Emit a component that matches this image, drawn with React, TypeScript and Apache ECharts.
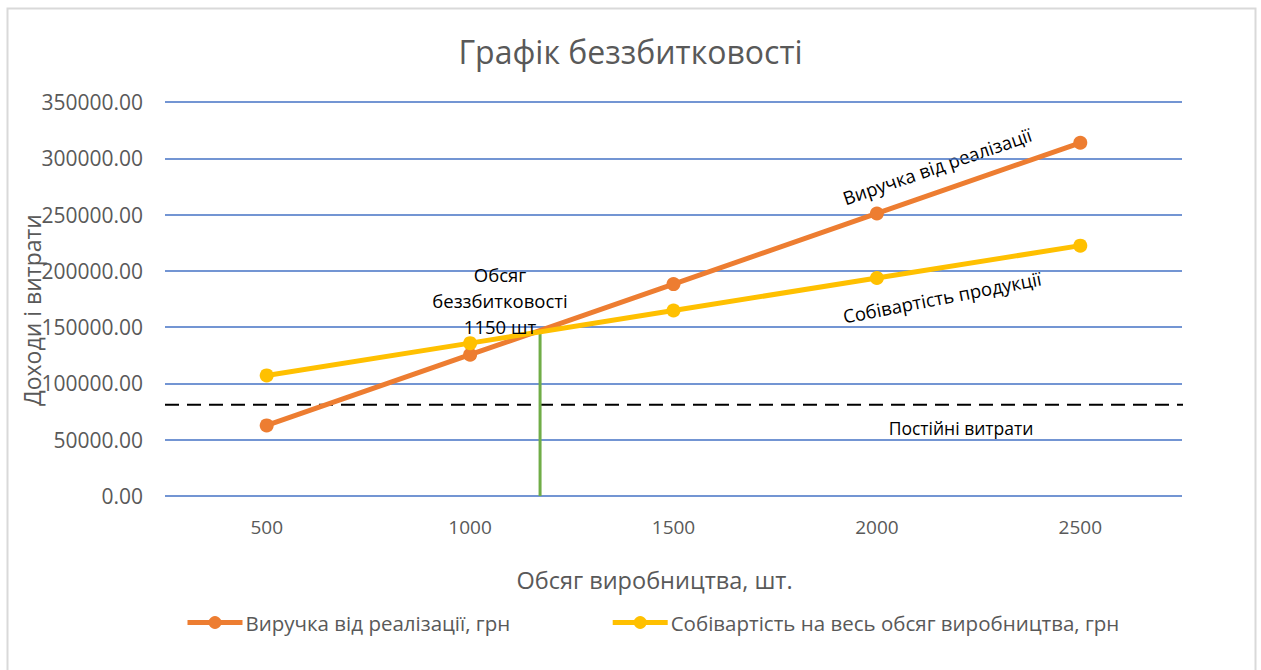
import React, { useEffect, useRef } from "react";
import * as echarts from "echarts";

const categories = ["500", "1000", "1500", "2000", "2500"];
const revenue = [62700, 125500, 188250, 251000, 313750];
const cost = [107100, 135800, 164800, 193600, 222400];
const fixedCostLevel = 81000;
const breakEvenX = 1172;
const breakEvenY = 147500;
const yTicks = { min: 0, max: 350000, interval: 50000 };

const FONT = "'Open Sans', 'Noto Sans', sans-serif";
const GRAY = "#595959";

export default function App() {
  const ref = useRef<HTMLDivElement>(null);
  useEffect(() => {
    if (!ref.current) return;
    const chart = echarts.init(ref.current, null, { renderer: "svg" });
    chart.setOption({
      animation: false,
      backgroundColor: "#fff",
      textStyle: { fontFamily: FONT },
      title: {
        text: "Графік беззбитковості",
        left: "center",
        top: 30,
        textStyle: { fontFamily: FONT, fontSize: 32, fontWeight: "normal", color: GRAY },
      },
      grid: { left: 165, right: 79, top: 102, bottom: 174 },
      legend: {
        top: 612,
        left: 185,
        padding: 0,
        itemWidth: 55,
        itemHeight: 16,
        itemGap: 100,
        lineStyle: { width: 5 },
        textStyle: { fontFamily: FONT, fontSize: 20.5, color: GRAY, padding: [0, 0, 0, -2] },
        data: ["Виручка від реалізації, грн", "Собівартість на весь обсяг виробництва, грн"],
      },
      xAxis: [
        {
          type: "category",
          data: categories,
          boundaryGap: true,
          axisLine: { show: false },
          axisTick: { show: false },
          axisLabel: { fontFamily: FONT, fontSize: 19, color: GRAY, margin: 21 },
          name: "Обсяг виробництва, шт.",
          nameLocation: "middle",
          nameGap: 72,
          nameTextStyle: { fontFamily: FONT, fontSize: 23.5, color: GRAY, padding: [0, 38, 0, 0] },
        },
        { type: "value", min: 250, max: 2750, show: false },
      ],
      yAxis: {
        type: "value",
        min: yTicks.min,
        max: yTicks.max,
        interval: yTicks.interval,
        axisLine: { show: false },
        axisTick: { show: false },
        axisLabel: {
          fontFamily: FONT,
          fontSize: 21,
          color: GRAY,
          margin: 22,
          formatter: (v: number) => v.toFixed(2),
        },
        splitLine: { lineStyle: { color: "#4472C4", width: 1.5 } },
      },
      series: [
        {
          name: "Виручка від реалізації, грн",
          type: "line",
          data: revenue,
          xAxisIndex: 0,
          symbol: "circle",
          symbolSize: 14,
          lineStyle: { width: 5, color: "#ED7D31" },
          itemStyle: { color: "#ED7D31" },
          z: 3,
        },
        {
          name: "Собівартість на весь обсяг виробництва, грн",
          type: "line",
          data: cost,
          xAxisIndex: 0,
          symbol: "circle",
          symbolSize: 14,
          lineStyle: { width: 5, color: "#FFC000" },
          itemStyle: { color: "#FFC000" },
          z: 4,
        },
        {
          name: "fixed",
          type: "line",
          xAxisIndex: 1,
          data: [
            [250, fixedCostLevel],
            [2755, fixedCostLevel],
          ],
          symbol: "none",
          lineStyle: { width: 2, color: "#000", type: [14, 8] },
          silent: true,
          z: 2,
        },
        {
          name: "breakeven",
          type: "line",
          xAxisIndex: 1,
          data: [
            [breakEvenX, 0],
            [breakEvenX, breakEvenY],
          ],
          symbol: "none",
          lineStyle: { width: 3, color: "#70AD47" },
          silent: true,
          z: 2,
        },
      ],
      graphic: [
        {
          type: "rect",
          shape: { x: 7.5, y: 8.5, width: 1248, height: 670 },
          style: { fill: "none", stroke: "#d9d9d9", lineWidth: 2 },
          silent: true,
        },
        {
          type: "text",
          x: 32,
          y: 310,
          rotation: Math.PI / 2,
          style: {
            text: "Доходи і витрати",
            align: "center",
            verticalAlign: "middle",
            fontFamily: FONT,
            fontSize: 23,
            fill: GRAY,
          },
        },
        {
          type: "text",
          x: 500,
          y: 300,
          style: {
            text: "Обсяг\nбеззбитковості\n1150 шт",
            align: "center",
            verticalAlign: "middle",
            fontFamily: FONT,
            fontSize: 18.5,
            lineHeight: 26,
            fill: "#000",
          },
          z: 10,
        },
        {
          type: "text",
          x: 937,
          y: 166,
          rotation: (19 * Math.PI) / 180,
          style: {
            text: "Виручка від реалізації",
            align: "center",
            verticalAlign: "middle",
            fontFamily: FONT,
            fontSize: 18.5,
            fill: "#000",
          },
        },
        {
          type: "text",
          x: 942,
          y: 297,
          rotation: (11 * Math.PI) / 180,
          style: {
            text: "Собівартість продукції",
            align: "center",
            verticalAlign: "middle",
            fontFamily: FONT,
            fontSize: 18.5,
            fill: "#000",
          },
        },
        {
          type: "text",
          x: 961,
          y: 428,
          style: {
            text: "Постійні витрати",
            align: "center",
            verticalAlign: "middle",
            fontFamily: FONT,
            fontSize: 17.5,
            fill: "#000",
          },
        },
      ],
    });
    return () => chart.dispose();
  }, []);
  return (
    <div
      ref={ref}
      style={{ position: "absolute", left: 0, top: 0, width: 1261, height: 670 }}
    />
  );
}
